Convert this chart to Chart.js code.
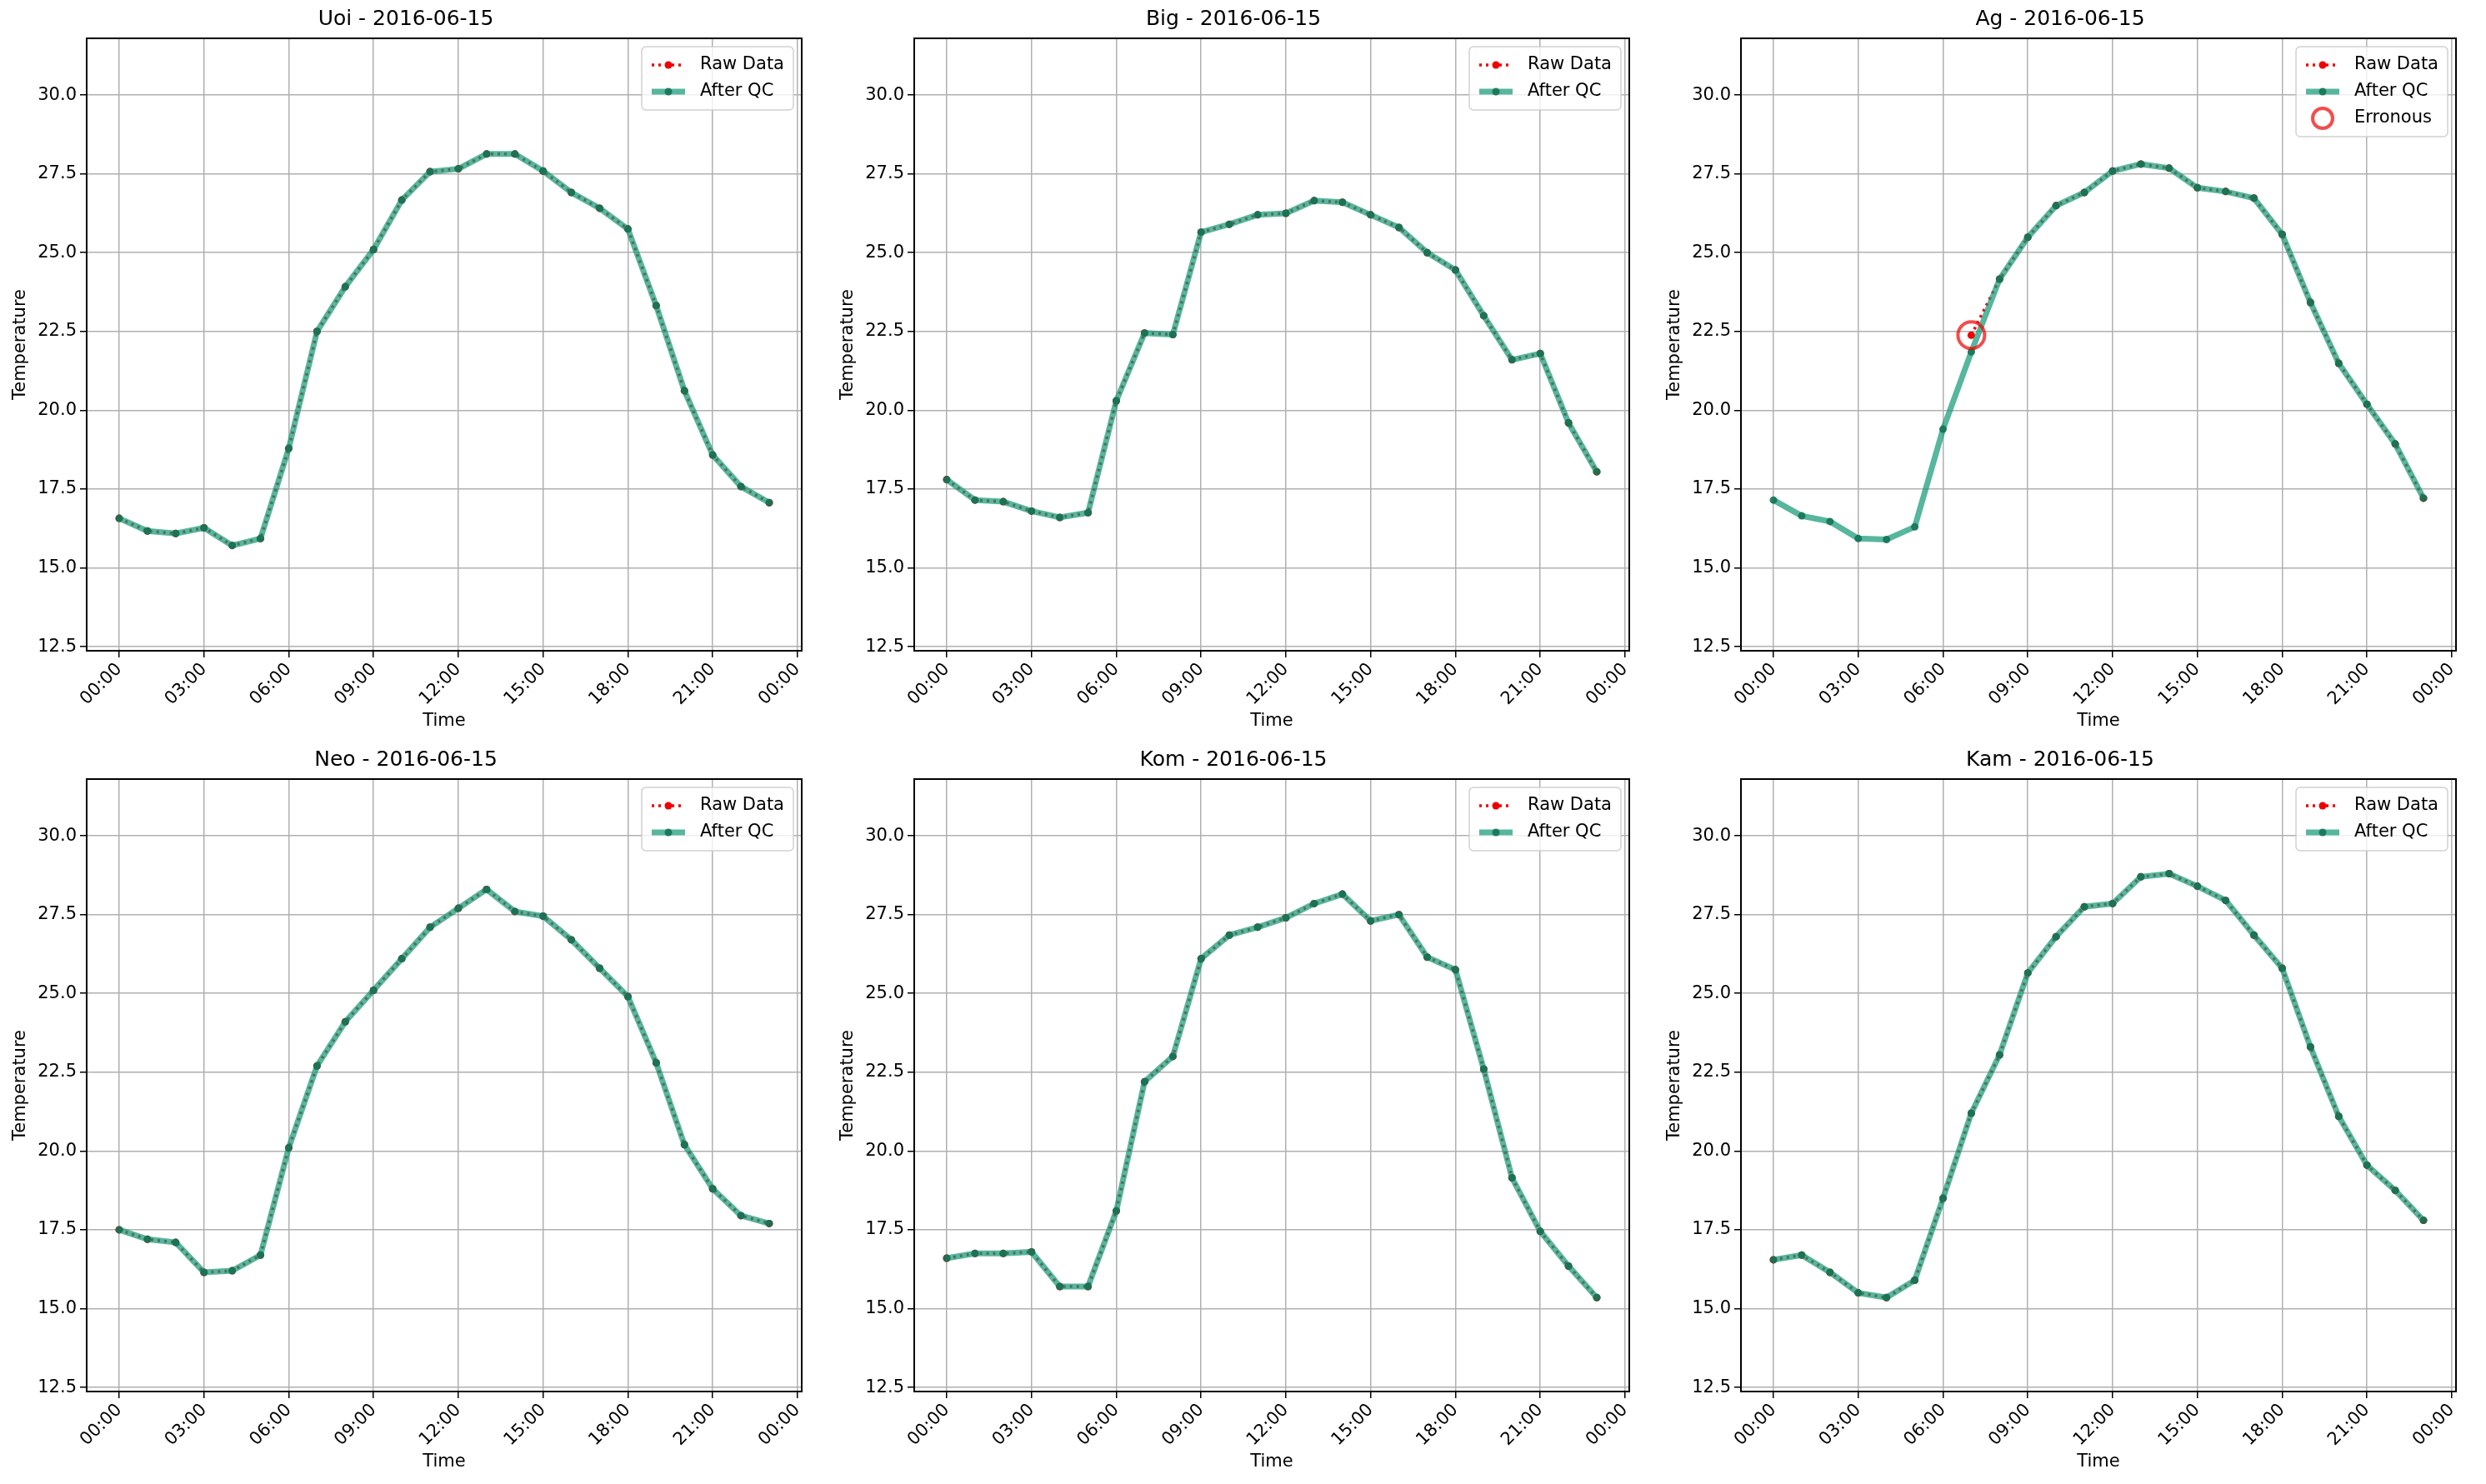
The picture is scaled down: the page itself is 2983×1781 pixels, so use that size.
<!DOCTYPE html>
<html><head><meta charset="utf-8">
<script src="https://cdn.jsdelivr.net/npm/chart.js@4/dist/chart.umd.min.js"></script>
<style>
html,body{margin:0;padding:0;background:#fff;width:2983px;height:1781px;overflow:hidden}
.c{position:absolute}
</style></head><body>
<script>
const hours = [0,1,2,3,4,5,6,7,8,9,10,11,12,13,14,15,16,17,18,19,20,21,22,23];
const xTicks = [0,3,6,9,12,15,18,21,24];
const yTicks = [12.5,15,17.5,20,22.5,25,27.5,30];
const stations = ["Uoi","Big","Ag","Neo","Kom","Kam"];
const dateLabel = "2016-06-15";

const qcUoi = [16.57,16.17,16.09,16.27,15.71,15.93,18.79,22.50,23.92,25.10,26.67,27.57,27.66,28.13,28.13,27.59,26.91,26.41,25.75,23.32,20.62,18.58,17.58,17.07];
const rawUoi = qcUoi;
const qcBig = [17.8,17.15,17.1,16.8,16.6,16.75,20.3,22.45,22.4,25.65,25.9,26.2,26.25,26.65,26.6,26.2,25.8,25.0,24.45,23.0,21.6,21.8,19.6,18.05];
const rawBig = qcBig;
const qcAg = [17.15,16.65,16.47,15.93,15.90,16.30,19.40,21.85,24.16,25.49,26.49,26.91,27.59,27.81,27.68,27.06,26.94,26.73,25.58,23.42,21.49,20.19,18.93,17.21];
const rawAg = [null,null,null,null,null,null,null,22.38,24.16,25.49,26.49,26.91,27.59,27.81,27.68,27.06,26.94,26.73,25.58,23.42,21.49,20.19,18.93,17.21];
const errAgHour = [7];
const errAgValue = [22.38];
const qcNeo = [17.5,17.2,17.1,16.15,16.2,16.7,20.1,22.7,24.1,25.1,26.1,27.1,27.7,28.3,27.6,27.45,26.7,25.8,24.9,22.8,20.2,18.8,17.95,17.7];
const rawNeo = qcNeo;
const qcKom = [16.6,16.75,16.75,16.8,15.7,15.7,18.1,22.2,23.0,26.1,26.85,27.1,27.4,27.85,28.15,27.3,27.5,26.15,25.75,22.6,19.15,17.45,16.35,15.35];
const rawKom = qcKom;
const qcKam = [16.55,16.7,16.15,15.5,15.35,15.9,18.5,21.2,23.05,25.65,26.8,27.75,27.85,28.7,28.8,28.4,27.95,26.85,25.8,23.3,21.1,19.55,18.75,17.8];
const rawKam = qcKam;

const panels = [
 {name:"Uoi",qc:qcUoi,raw:rawUoi,err:null},
 {name:"Big",qc:qcBig,raw:rawBig,err:null},
 {name:"Ag",qc:qcAg,raw:rawAg,err:{h:errAgHour,v:errAgValue}},
 {name:"Neo",qc:qcNeo,raw:rawNeo,err:null},
 {name:"Kom",qc:qcKom,raw:rawKom,err:null},
 {name:"Kam",qc:qcKam,raw:rawKam,err:null}
];

const FONT = "DejaVu Sans";
const QC_LINE = "rgba(22,154,120,0.72)";
const QC_PT = "rgba(20,115,85,0.9)";
const RED = "rgb(240,0,0)";
const plotL = [104,1097,2089], plotT = [46,935], PW = 858, PH = 735;
const YW = 104, PADL = 12, TH = 46, CW = 993, CH = 880;

const framePlugin = {
  id:'frame',
  afterDatasetsDraw(chart, args, opts){
    const {ctx, chartArea:a} = chart;
    ctx.save();
    ctx.strokeStyle = '#000'; ctx.lineWidth = 2;
    ctx.strokeRect(a.left, a.top, a.right-a.left, a.bottom-a.top);
    const items = opts.items;
    const rowH = 32, bw = 182, bh = 12 + rowH*items.length;
    const bx = a.right - bw - 10, by = a.top + 10;
    ctx.fillStyle = 'rgba(255,255,255,0.8)';
    ctx.strokeStyle = 'rgba(204,204,204,0.9)'; ctx.lineWidth = 1.5;
    ctx.beginPath(); ctx.roundRect(bx, by, bw, bh, 5); ctx.fill(); ctx.stroke();
    ctx.font = `21px "${FONT}"`; ctx.textBaseline = 'middle'; ctx.fillStyle = '#000';
    items.forEach((it, i) => {
      const y = by + 6 + rowH*i + rowH/2;
      const x0 = bx + 12, x1 = bx + 52, xm = (x0+x1)/2;
      if (it === 'raw') {
        ctx.strokeStyle = RED; ctx.lineWidth = 3.5; ctx.setLineDash([3,5]);
        ctx.beginPath(); ctx.moveTo(x0,y); ctx.lineTo(x1,y); ctx.stroke(); ctx.setLineDash([]);
        ctx.fillStyle = RED; ctx.beginPath(); ctx.arc(xm,y,4.5,0,Math.PI*2); ctx.fill();
        ctx.fillStyle = '#000'; ctx.fillText('Raw Data', bx+70, y);
      } else if (it === 'qc') {
        ctx.strokeStyle = QC_LINE; ctx.lineWidth = 7;
        ctx.beginPath(); ctx.moveTo(x0,y); ctx.lineTo(x1,y); ctx.stroke();
        ctx.fillStyle = QC_PT; ctx.beginPath(); ctx.arc(xm,y,4.5,0,Math.PI*2); ctx.fill();
        ctx.fillStyle = '#000'; ctx.fillText('After QC', bx+70, y);
      } else {
        ctx.strokeStyle = 'rgba(240,0,0,0.7)'; ctx.lineWidth = 4;
        ctx.beginPath(); ctx.arc(xm,y,12,0,Math.PI*2); ctx.stroke();
        ctx.fillStyle = '#000'; ctx.fillText('Erronous', bx+70, y);
      }
    });
    ctx.restore();
  }
};

panels.forEach((p, i) => {
  const col = i % 3, row = Math.floor(i/3);
  const cv = document.createElement('canvas');
  cv.className = 'c';
  cv.style.left = (plotL[col]-YW) + 'px';
  cv.style.top = (plotT[row]-TH) + 'px';
  cv.style.width = CW + 'px'; cv.style.height = CH + 'px';
  cv.width = CW; cv.height = CH;
  document.body.appendChild(cv);
  const datasets = [
    {label:'Raw Data', data: hours.map((h,k)=>({x:h,y:p.raw[k]})), borderColor:RED, borderWidth:3.5,
     borderDash:[3,5], pointRadius:4.5, pointBackgroundColor:RED, pointBorderWidth:0, spanGaps:false, order:3, tension:0},
    {label:'After QC', data: hours.map((h,k)=>({x:h,y:p.qc[k]})), borderColor:QC_LINE, borderWidth:7,
     pointRadius:4.5, pointBackgroundColor:QC_PT, pointBorderWidth:0, order:2, tension:0}
  ];
  if (p.err) datasets.push({label:'Erronous', data: p.err.h.map((h,k)=>({x:h,y:p.err.v[k]})), showLine:false,
     pointRadius:16, pointBorderColor:'rgba(240,0,0,0.7)', pointBorderWidth:4, pointBackgroundColor:'rgba(0,0,0,0)', order:1});
  new Chart(cv, {
    type:'line',
    data:{datasets},
    plugins:[framePlugin],
    options:{
      responsive:false, animation:false, devicePixelRatio:1,
      layout:{padding:{left:PADL,right:CW-YW-PW,top:0,bottom:0}},
      plugins:{
        legend:{display:false}, tooltip:{enabled:false},
        title:{display:true, text:`${p.name} - ${dateLabel}`, color:'#000', font:{family:FONT,size:25,weight:'normal'}, padding:{top:8,bottom:8}},
        frame:{items: p.err ? ['raw','qc','err'] : ['raw','qc']}
      },
      scales:{
        x:{type:'linear', min:-1.15, max:24.15,
          afterBuildTicks(ax){ ax.ticks = xTicks.map(v=>({value:v})); },
          afterFit(ax){ ax.height = CH - TH - PH; },
          ticks:{minRotation:45, maxRotation:45, color:'#000', font:{family:FONT,size:21}, padding:2,
            callback:(v)=> String(v % 24).padStart(2,'0') + ':00'},
          grid:{color:'#b0b0b0', lineWidth:1.5, tickLength:8, tickColor:'#000', drawTicks:true},
          border:{display:false},
          title:{display:true, text:'Time', color:'#000', font:{family:FONT,size:21}, padding:{top:0,bottom:2}}
        },
        y:{min:12.37, max:31.8,
          afterBuildTicks(ax){ ax.ticks = yTicks.map(v=>({value:v})); },
          afterFit(ax){ ax.width = YW - PADL; },
          ticks:{color:'#000', font:{family:FONT,size:21}, padding:4, callback:(v)=>v.toFixed(1)},
          grid:{color:'#b0b0b0', lineWidth:1.5, tickLength:8, tickColor:'#000'},
          border:{display:false},
          title:{display:true, text:'Temperature', color:'#000', font:{family:FONT,size:21}, padding:{top:0,bottom:2}}
        }
      }
    }
  });
});
</script>
</body></html>
